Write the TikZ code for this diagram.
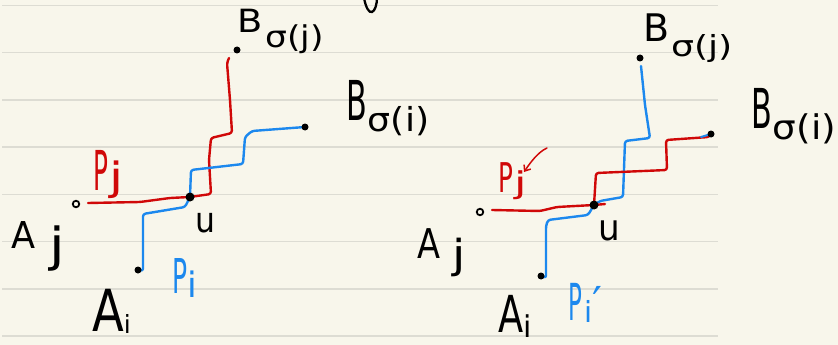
\documentclass[tikz,border=0pt]{standalone}
\usepackage{fontspec}
\usepackage{graphicx}
\usetikzlibrary{arrows.meta}
\newfontfamily\hwf{DejaVu Sans}
\definecolor{paper}{HTML}{F8F6EB}
\definecolor{ruleline}{HTML}{DDDCD3}
\definecolor{penred}{HTML}{D00808}
\definecolor{penblue}{HTML}{1C88EE}
% #1 = horizontal squeeze, #2 = size (pt), #3 = text
\newcommand\hw[3]{\scalebox{#1}[1]{\hwf\fontsize{#2}{#2}\selectfont #3}}
\pgfdeclarelayer{paperlayer}
\pgfdeclarelayer{inklayer}
\pgfsetlayers{paperlayer,inklayer,main}
\begin{document}
\begin{tikzpicture}[x=1pt,y=-1pt,
  pen/.style={line width=2.4pt, line cap=round, line join=round, rounded corners=2.5pt},
  redpen/.style={pen, penred},
  bluepen/.style={pen, penblue},
  dot/.style={circle, fill=black, inner sep=0pt, minimum size=#1},
  dot/.default=7pt,
  hollow/.style={circle, draw=black, line width=1.8pt, inner sep=0pt, minimum size=6.5pt},
  lab/.style={inner sep=0pt, anchor=base west},
]
\begin{pgfonlayer}{paperlayer}
\fill[paper] (0,0) rectangle (838,345);
\foreach \yy in {5.5,52.7,100,147.2,194.4,241.6,288.8,336}
  \draw[ruleline, line width=1.6pt] (2,\yy) -- (718,\yy);
\end{pgfonlayer}
\useasboundingbox (0,0) rectangle (838,345);

% partial stroke at the top edge
\draw[black, line width=2.3pt, line cap=round] (364,-2) .. controls (366,8) and (369,13) .. (372,12) .. controls (375,11) and (377,4) .. (377,-2);

% ---------- left diagram ----------
\node[dot] (B1j) at (237,50) {};
\node[dot] (B1i) at (305,127) {};
\node[dot=9pt] (u1) at (190,197) {};
\node[hollow] (A1j) at (76,204) {};
\node[dot] (A1i) at (138,270) {};
\coordinate (r1s) at (229,58);
\coordinate (r1e) at (88,203);

\begin{pgfonlayer}{inklayer}
\draw[redpen] (r1s) -- (227,63) -- (230,100) -- (232,133) -- (211,138) -- (209,160) -- (211,194) -- (u1.center) -- (170,198) -- (140,202) -- (r1e);
\draw[bluepen] (A1i.center) -- (143,271) -- (143,214) -- (185,207) -- (u1.center) -- (191,170) -- (243,164) -- (245,137) -- (252,131) -- (B1i.center);
\end{pgfonlayer}

\node[lab] (L1Bj) at (237,33) {\hw{1.15}{32}{B}\kern3pt\raisebox{-15pt}{\hw{1.15}{30}{σ(j)}}};
\node[lab] (L1Bi) at (346,120) {\hw{0.55}{55}{B}\kern1pt\raisebox{-11pt}{\hw{1.1}{33}{σ(i)}}};
\node[lab] (L1Aj) at (11,248) {\hw{0.95}{37}{A}\kern14pt\raisebox{-13pt}{\hw{1.2}{47}{j}}};
\node[lab] (L1u) at (195,232) {\hw{0.9}{35}{u}};
\node[lab] (L1Ai) at (92,331) {\hw{0.8}{58}{A}\raisebox{-2pt}{\hw{1}{25}{i}}};
\node[lab, penred] (L1Pj) at (93,190) {\hw{0.45}{55}{P}\kern1pt\hw{1.3}{39}{j}};
\node[lab, penblue] (L1Pi) at (172,293) {\hw{0.52}{48}{P}\raisebox{-4pt}{\hw{1}{35}{i}}};

% ---------- right diagram ----------
\node[dot] (B2j) at (640,58) {};
\node[dot] (B2i) at (711,134) {};
\node[dot=9pt] (u2) at (594,205) {};
\node[hollow] (A2j) at (480,212) {};
\node[dot] (A2i) at (541,276) {};
\coordinate (b2s) at (641,66);
\coordinate (r2s) at (492,210);
\coordinate (r2e) at (605,204);
\coordinate (bt1) at (701,137);
\coordinate (ar1) at (547,148);
\coordinate (ar2) at (524,172);

\begin{pgfonlayer}{inklayer}
\draw[bluepen] (b2s) -- (645,105) -- (650,138) -- (625,141) -- (623,197) -- (600,201) -- (u2.center) -- (588,215) -- (548,220) -- (546,226) -- (546,278) -- (A2i.center);
\draw[redpen] (r2s) -- (540,211) -- (557,207) -- (u2.center) -- (r2e);
\draw[redpen] (u2.center) -- (596,173) -- (667,170) -- (666,140) -- (709,137) -- (B2i.center);
\draw[bluepen, line width=2pt] (bt1) -- (B2i.center);
\draw[penred, line width=1.5pt, line cap=round, -{Straight Barb[length=5pt,width=8pt]}] (ar1) .. controls (538,152) and (530,163) .. (ar2);
\end{pgfonlayer}

\node[lab] (R2Bj) at (643,42) {\hw{1.0}{38}{B}\kern2pt\raisebox{-14pt}{\hw{1.25}{29}{σ(j)}}};
\node[lab] (R2Bi) at (751,128) {\hw{0.55}{55}{B}\kern1pt\raisebox{-11pt}{\hw{1.1}{34}{σ(i)}}};
\node[lab] (R2Aj) at (417,258) {\hw{0.82}{41}{A}\kern12pt\raisebox{-10pt}{\hw{1.2}{40}{j}}};
\node[lab] (R2u) at (598,240) {\hw{0.95}{36}{u}};
\node[lab] (R2Ai) at (498,332) {\hw{0.72}{51}{A}\raisebox{-5pt}{\hw{1}{30}{i}}};
\node[lab, penred] (R2Pj) at (498,192) {\hw{0.6}{41}{P}\kern1pt\raisebox{-1pt}{\hw{1.5}{30}{j}}};
\node[lab, penblue] (R2Pi) at (568,320) {\hw{0.45}{51}{P}\kern2pt\raisebox{-2pt}{\hw{1}{29}{i}}\raisebox{2pt}{\hw{1}{44}{′}}};
\end{tikzpicture}
\end{document}
